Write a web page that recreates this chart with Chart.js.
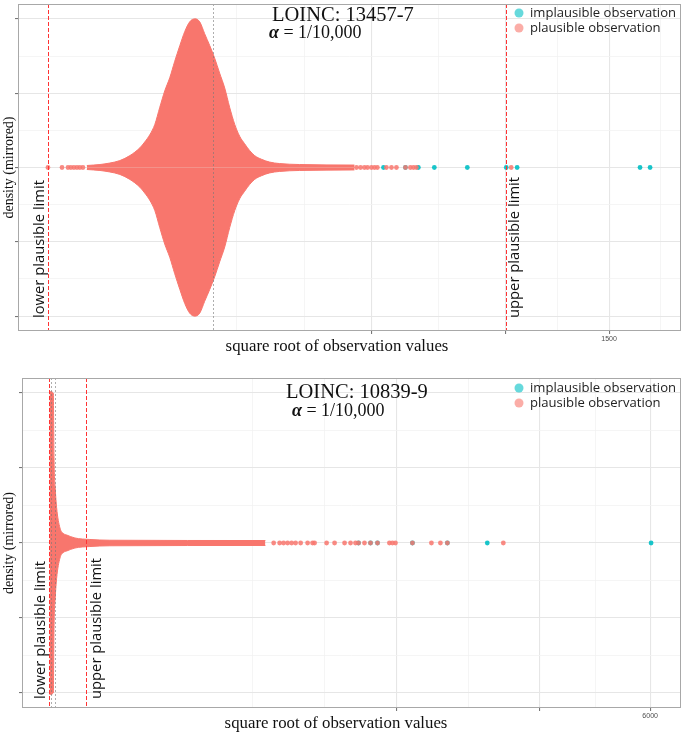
<!DOCTYPE html>
<html>
<head>
<meta charset="utf-8">
<script src="https://cdn.jsdelivr.net/npm/chart.js@4.4.0/dist/chart.umd.min.js"></script>
<style>
  html, body { margin: 0; padding: 0; background: #fff; }
  #wrap { position: relative; width: 685px; height: 734px; }
  .panel { position: absolute; left: 0; width: 685px; }
</style>
</head>
<body>
<div id="wrap">
  <div class="panel" style="top:0;height:358px"><canvas id="topChart" width="685" height="358"></canvas></div>
  <div class="panel" style="top:360px;height:374px"><canvas id="bottomChart" width="685" height="374"></canvas></div>
</div>
<script>
// x values are square roots of the observation values, y is the mirrored density

// panel 1 : LOINC 13457-7
var topDensSqrt = [2.78, 3.68, 4.36, 5.05, 5.74, 6.43, 6.77, 7.11, 7.46, 7.80, 8.14, 8.49, 8.83, 9.18,
  9.52, 9.86, 10.21, 10.55, 10.89, 11.24, 11.58, 11.92, 12.27, 12.61, 12.96, 13.30, 13.64, 13.98,
  14.33, 14.81, 15.36, 16.04, 17.42, 21.2];
var topDens = [0.027, 0.04, 0.06, 0.093, 0.16, 0.265, 0.345, 0.44, 0.58, 0.81, 1.03, 1.21, 1.43, 1.64,
  1.83, 1.96, 2.0, 1.96, 1.80, 1.64, 1.47, 1.27, 1.07, 0.81, 0.58, 0.42, 0.32, 0.23,
  0.16, 0.11, 0.073, 0.053, 0.04, 0.033];
var topPlausible = [0.10, 1.07, 1.48, 1.68, 1.89, 2.10, 2.30, 2.51,
  21.34, 21.62, 21.89, 22.10, 22.37, 22.58, 22.78, 23.40, 23.75, 24.09, 24.71, 25.05, 25.26, 25.46, 31.99];
var topImplausible = [23.20, 24.71, 25.60, 26.70, 28.97, 31.65, 32.40, 40.86, 41.55];
var topLimits = [0.10, 31.65];
var topCentreLines = [11.44];
var topMajorTicks = [500, 1000, 1500];
var topTickLabels = ['', '', '1500'];

// panel 2 : LOINC 10839-9
var botDensSqrt = [-0.06, 0.43, 0.52, 0.68, 0.86, 1.29, 1.68, 2.15, 3.22, 5.15, 7.73, 27.8];
var botDens = [2.02, 2.0, 1.13, 0.73, 0.47, 0.2, 0.13, 0.107, 0.067, 0.047, 0.037, 0.033];
var botPlausible = [28.87, 29.64, 30.15, 30.67, 31.19, 31.70, 32.35, 33.25, 33.89, 34.15, 35.70, 36.73,
  38.02, 38.79, 39.43, 39.82, 40.59, 41.37, 42.27, 43.81, 44.20, 44.59, 46.78, 49.23, 50.39, 51.29, 58.51];
var botImplausible = [39.82, 41.37, 42.27, 46.78, 51.29, 56.44, 77.58];
var botLimits = [-0.09, 4.66];
var botCentreLines = [0.13, 0.64];
var botMajorTicks = [2000, 4000, 6000];
var botTickLabels = ['', '', '6000'];

var salmon = '#F8766D';
var teal = '#00BFC4';
var SERIF = '"Liberation Serif", "Times New Roman", serif';
var SANS = '"Open Sans", "Liberation Sans", sans-serif';

// ggplot style breaks: majors plus minors halfway between them (in sqrt space)
function sqrtGrid(major) {
  var s = major.map(Math.sqrt);
  var n = s.length;
  var ext = [s[0] - (s[1] - s[0])].concat(s, [s[n - 1] + (s[n - 1] - s[n - 2])]);
  var out = [];
  for (var i = 0; i < ext.length; i++) {
    out.push({ value: ext[i], major: i > 0 && i < ext.length - 1 });
    if (i < ext.length - 1) out.push({ value: (ext[i] + ext[i + 1]) / 2, major: false });
  }
  return out;
}

function fitFont(ctx, text, style, family, width) {
  ctx.font = style + ' 100px ' + family;
  var size = 100 * width / ctx.measureText(text).width;
  return style + ' ' + size.toFixed(2) + 'px ' + family;
}

function densityDataset(xs, ds, sign) {
  return {
    data: xs.map(function (x, i) { return { x: x, y: sign * ds[i] }; }),
    showLine: true, fill: 'origin', pointRadius: 0,
    borderColor: salmon, borderWidth: 1, backgroundColor: salmon,
    cubicInterpolationMode: 'monotone', order: 3
  };
}

function pointDataset(xs, colour, order) {
  return {
    data: xs.map(function (x) { return { x: x, y: 0 }; }),
    showLine: false, pointRadius: 2.4, pointBorderWidth: 0,
    pointBackgroundColor: colour, backgroundColor: colour, order: order
  };
}

var gridOpts = {
  color: function (c) { return c.tick && c.tick.major ? '#E6E6E6' : '#F2F2F2'; },
  lineWidth: function (c) { return c.tick && c.tick.major ? 1.1 : 0.8; },
  tickColor: function (c) { return c.tick && c.tick.major ? '#777' : 'rgba(0,0,0,0)'; },
  tickLength: 3,
  drawTicks: true
};

function makeDecor(o) {
  return {
    id: 'decor',
    afterDatasetsDraw: function (chart) {
      var ctx = chart.ctx, a = chart.chartArea, xs = chart.scales.x;
      function vline(v, dash, colour) {
        var px = Math.round(xs.getPixelForValue(v)) + 0.5;
        ctx.beginPath();
        ctx.setLineDash(dash);
        ctx.strokeStyle = colour;
        ctx.lineWidth = 1;
        ctx.moveTo(px, a.top);
        ctx.lineTo(px, a.bottom);
        ctx.stroke();
      }
      ctx.save();
      o.centres.forEach(function (v) { vline(v, [2, 2], 'rgba(120,120,120,0.6)'); });
      o.limits.forEach(function (v) { vline(v, [4, 2], '#FF3333'); });
      ctx.restore();
    },
    afterDraw: function (chart) {
      var ctx = chart.ctx, a = chart.chartArea, xs = chart.scales.x;
      ctx.save();
      // panel border
      ctx.strokeStyle = '#A8A8A8';
      ctx.lineWidth = 1;
      ctx.strokeRect(a.left + 0.5, a.top + 0.5, a.width - 1, a.height - 1);

      // limit labels, rotated
      var limFont = fitFont(ctx, o.limitText[0], '', SANS, 138);
      o.limits.forEach(function (v, i) {
        ctx.save();
        ctx.translate(xs.getPixelForValue(v) + o.limitDx[i], o.limitBase);
        ctx.rotate(-Math.PI / 2);
        ctx.font = limFont;
        ctx.fillStyle = '#111';
        ctx.textAlign = 'left';
        ctx.textBaseline = 'middle';
        ctx.fillText(o.limitText[i], 0, 0);
        ctx.restore();
      });

      // LOINC title and alpha
      ctx.fillStyle = '#111';
      ctx.textAlign = 'left';
      ctx.textBaseline = 'alphabetic';
      ctx.font = '20.5px ' + SERIF;
      ctx.fillText(o.loinc, o.loincX, o.loincY);
      ctx.font = 'bold italic 18px ' + SERIF;
      ctx.fillText('\u03B1', o.alphaX, o.alphaY);
      var w = ctx.measureText('\u03B1').width;
      ctx.font = '18px ' + SERIF;
      ctx.fillText(' = 1/10,000', o.alphaX + w, o.alphaY);

      // legend
      var legFont = fitFont(ctx, o.legendText[0], '', SANS, 146);
      [teal, salmon].forEach(function (col, i) {
        ctx.globalAlpha = 0.6;
        ctx.fillStyle = col;
        ctx.beginPath();
        ctx.arc(o.legendX, o.legendY[i], 4.5, 0, Math.PI * 2);
        ctx.fill();
        ctx.globalAlpha = 1;
        ctx.fillStyle = '#222';
        ctx.font = legFont;
        ctx.textBaseline = 'middle';
        ctx.fillText(o.legendText[i], o.legendX + 11, o.legendY[i]);
      });

      // axis titles
      ctx.fillStyle = '#111';
      ctx.textAlign = 'center';
      ctx.textBaseline = 'middle';
      ctx.font = fitFont(ctx, 'square root of observation values', '', SERIF, 223);
      ctx.fillText('square root of observation values', o.xTitleX, o.xTitleY);
      ctx.save();
      ctx.translate(9, (a.top + a.bottom) / 2);
      ctx.rotate(-Math.PI / 2);
      ctx.font = fitFont(ctx, 'density (mirrored)', '', SERIF, 102);
      ctx.fillText('density (mirrored)', 0, 0);
      ctx.restore();
      ctx.restore();
    }
  };
}

function makeChart(id, d) {
  var grid = sqrtGrid(d.majorTicks);
  var cfg = {
    type: 'scatter',
    data: {
      datasets: [
        densityDataset(d.densSqrt, d.dens, 1),
        densityDataset(d.densSqrt, d.dens, -1),
        pointDataset(d.implausible, 'rgba(0,191,196,0.9)', 2),
        pointDataset(d.plausible, 'rgba(248,118,109,0.85)', 1)
      ]
    },
    options: {
      responsive: false,
      animation: false,
      events: [],
      layout: { padding: { left: 0, top: d.padTop, right: 3, bottom: 0 } },
      plugins: { legend: { display: false }, tooltip: { enabled: false } },
      scales: {
        x: {
          type: 'linear', min: d.xMin, max: d.xMax,
          afterBuildTicks: function (s) {
            s.ticks = grid.filter(function (t) { return t.value >= d.xMin && t.value <= d.xMax; })
              .map(function (t) { return { value: t.value, major: t.major }; });
          },
          afterFit: function (s) { s.height = d.xAxisHeight; },
          ticks: {
            autoSkip: false, maxRotation: 0, padding: 1, color: '#4D4D4D',
            font: { family: 'Liberation Sans', size: 7 },
            callback: function (v) {
              for (var i = 0; i < d.majorTicks.length; i++) {
                if (Math.abs(Math.sqrt(d.majorTicks[i]) - v) < 1e-6) return d.tickLabels[i];
              }
              return '';
            }
          },
          grid: gridOpts,
          border: { display: false }
        },
        y: {
          type: 'linear', min: -2.2, max: 2.2,
          afterBuildTicks: function (s) {
            var t = [];
            for (var v = -2; v <= 2.001; v += 0.5) t.push({ value: v, major: Math.abs(v - Math.round(v)) < 1e-9 });
            s.ticks = t;
          },
          afterFit: function (s) { s.width = d.yAxisWidth; },
          ticks: { display: false },
          grid: gridOpts,
          border: { display: false }
        }
      }
    },
    plugins: [makeDecor(d.decor)]
  };
  return new Chart(document.getElementById(id).getContext('2d'), cfg);
}

makeChart('topChart', {
  densSqrt: topDensSqrt, dens: topDens, plausible: topPlausible, implausible: topImplausible,
  majorTicks: topMajorTicks, tickLabels: topTickLabels,
  xMin: -1.96, xMax: 43.68, padTop: 2, xAxisHeight: 27, yAxisWidth: 18,
  decor: {
    centres: topCentreLines, limits: topLimits,
    limitText: ['lower plausible limit', 'upper plausible limit'],
    limitDx: [-8, 9], limitBase: 318,
    loinc: 'LOINC: 13457-7', loincX: 272, loincY: 21, alphaX: 269, alphaY: 38,
    legendText: ['implausible observation', 'plausible observation'],
    legendX: 519, legendY: [13, 28],
    xTitleX: 337, xTitleY: 347
  }
});

makeChart('bottomChart', {
  densSqrt: botDensSqrt, dens: botDens, plausible: botPlausible, implausible: botImplausible,
  majorTicks: botMajorTicks, tickLabels: botTickLabels,
  xMin: -3.61, xMax: 81.44, padTop: 18, xAxisHeight: 26, yAxisWidth: 22,
  decor: {
    centres: botCentreLines, limits: botLimits,
    limitText: ['lower plausible limit', 'upper plausible limit'],
    limitDx: [-8, 11], limitBase: 339,
    loinc: 'LOINC: 10839-9', loincX: 286, loincY: 38, alphaX: 292, alphaY: 56,
    legendText: ['implausible observation', 'plausible observation'],
    legendX: 519, legendY: [28, 43],
    xTitleX: 336, xTitleY: 364
  }
});
</script>
</body>
</html>
